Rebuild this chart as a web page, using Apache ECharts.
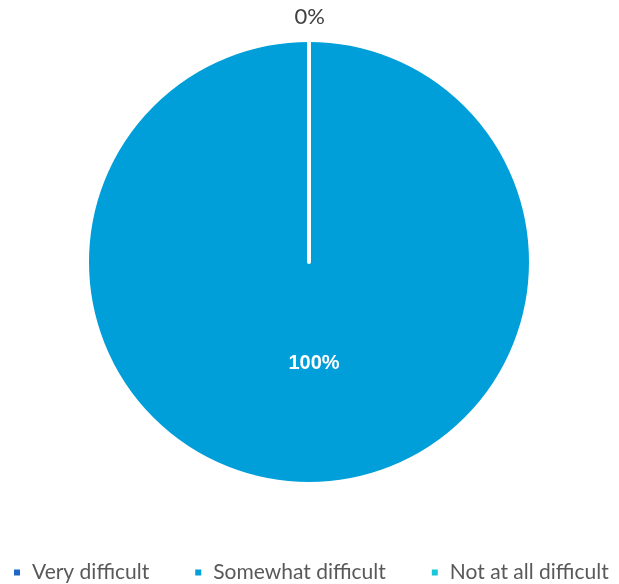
<!DOCTYPE html>
<html><head><meta charset="utf-8">
<script src="https://cdn.jsdelivr.net/npm/echarts@6/dist/echarts.min.js"></script>
<style>html,body{margin:0;padding:0;background:#fff}#c{width:619px;height:584px}</style>
</head><body><div id="c"></div>
<script>
const categories = ['Very difficult', 'Somewhat difficult', 'Not at all difficult'];
const values = [0, 100, 0];
const colors = ['#1F67C6', '#009FDA', '#18C8D8'];

const chart = echarts.init(document.getElementById('c'), null, {renderer: 'canvas'});
const data = categories.map((name, i) => {
  const item = {name: name, value: values[i], itemStyle: {color: colors[i]}};
  if (i === 0) {
    item.label = {position: 'outside', color: '#404040', fontSize: 22, fontFamily: 'Lato', fontWeight: 'normal', offset: [21, 0]};
    item.labelLine = {show: false, length: 23, length2: 0};
  } else if (i === 1) {
    item.label = {position: 'inside', color: '#ffffff', fontSize: 20, fontWeight: 'bold', fontFamily: 'Liberation Sans', offset: [5, -13]};
  } else {
    item.label = {show: false};
    item.labelLine = {show: false};
  }
  return item;
});
chart.setOption({
  animation: false,
  backgroundColor: '#ffffff',
  legend: {
    data: categories,
    left: 12,
    width: 640,
    padding: 0,
    top: 562,
    icon: 'rect',
    itemWidth: 8,
    itemHeight: 8,
    itemGap: 44,
    textStyle: {color: '#595959', fontSize: 21, fontFamily: 'Lato', padding: [0, 0, 0, 6]}
  },
  series: [{
    type: 'pie',
    center: [309, 262],
    radius: 222,
    startAngle: 90,
    clockwise: true,
    avoidLabelOverlap: false,
    label: {show: true, formatter: '{d}%'},
    labelLine: {show: false},
    itemStyle: {borderColor: '#ffffff', borderWidth: 4},
    emphasis: {disabled: true},
    data: data
  }]
});
</script></body></html>
